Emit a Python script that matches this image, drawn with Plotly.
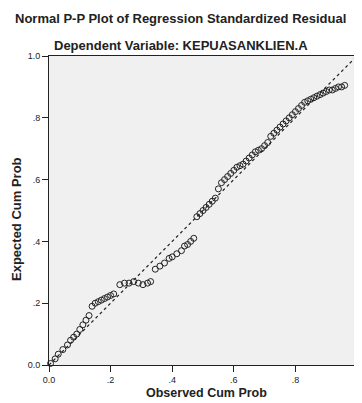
import plotly.graph_objects as go

observed = [0.005, 0.02, 0.03, 0.045, 0.06, 0.07, 0.08, 0.09, 0.10, 0.11, 0.12, 0.13,
            0.14, 0.15, 0.16, 0.17, 0.18, 0.19, 0.20, 0.21,
            0.23, 0.245, 0.26, 0.275, 0.29, 0.305, 0.32, 0.33,
            0.345, 0.36, 0.375, 0.39, 0.40, 0.415, 0.43,
            0.44, 0.45, 0.46, 0.47,
            0.48, 0.49, 0.50, 0.51, 0.52, 0.53, 0.54,
            0.55, 0.56, 0.57, 0.58, 0.59, 0.60, 0.61, 0.62, 0.63, 0.64,
            0.65, 0.66, 0.67, 0.68, 0.69, 0.70, 0.71,
            0.72, 0.73, 0.74, 0.75, 0.76, 0.77, 0.78, 0.79, 0.80, 0.81, 0.82,
            0.83, 0.84, 0.85, 0.86, 0.87, 0.88, 0.89, 0.90, 0.91, 0.92, 0.93, 0.94, 0.95, 0.96]
expected = [0.005, 0.02, 0.035, 0.05, 0.065, 0.08, 0.09, 0.10, 0.115, 0.13, 0.145, 0.16,
            0.19, 0.20, 0.205, 0.21, 0.215, 0.22, 0.225, 0.23,
            0.26, 0.265, 0.265, 0.27, 0.265, 0.26, 0.265, 0.27,
            0.31, 0.32, 0.33, 0.345, 0.35, 0.36, 0.37,
            0.385, 0.39, 0.40, 0.41,
            0.48, 0.49, 0.50, 0.51, 0.52, 0.53, 0.54,
            0.57, 0.59, 0.60, 0.61, 0.62, 0.63, 0.64, 0.645, 0.65, 0.66,
            0.67, 0.68, 0.69, 0.695, 0.70, 0.71, 0.72,
            0.74, 0.75, 0.76, 0.77, 0.78, 0.79, 0.80, 0.81, 0.82, 0.83, 0.84,
            0.85, 0.855, 0.86, 0.865, 0.87, 0.875, 0.88, 0.885, 0.89, 0.89, 0.895, 0.90, 0.90, 0.905]

ref_line = [0, 1]
tick_vals = [0, 0.2, 0.4, 0.6, 0.8, 1.0]
tick_text = ["0.0", ".2", ".4", ".6", ".8", "1.0"]

# figure sits at an 8px page offset; size it to fill the window exactly
W, H = 354, 395
L, R, T, B = 41, 5, 48, 38
PW, PH = W - L - R, H - T - B

fig = go.Figure()
fig.add_trace(go.Scatter(x=ref_line, y=ref_line, mode="lines",
                         line=dict(color="#222", width=1.2, dash="dot"),
                         hoverinfo="skip", showlegend=False))
fig.add_trace(go.Scatter(x=observed, y=expected, mode="markers",
                         marker=dict(symbol="circle-open", size=6, color="#222",
                                     line=dict(width=1)),
                         cliponaxis=False, showlegend=False))

font = "Liberation Sans, Arial, sans-serif"
cx = (172.5 - L) / PW
fig.update_layout(
    width=W, height=H,
    margin=dict(l=L, r=R, t=T, b=B),
    paper_bgcolor="white", plot_bgcolor="#f0f0f0",
    font=dict(family=font, color="#222"),
    annotations=[
        dict(text="<b>Normal P-P Plot of Regression Standardized Residual</b>",
             x=cx, xref="paper", y=1 + (T - 11) / PH, yref="paper",
             xanchor="center", yanchor="middle", showarrow=False,
             font=dict(size=13)),
        dict(text="<b>Dependent Variable: KEPUASANKLIEN.A</b>",
             x=cx, xref="paper", y=1 + (T - 37) / PH, yref="paper",
             xanchor="center", yanchor="middle", showarrow=False,
             font=dict(size=13)),
        dict(text="<b>Observed Cum Prob</b>",
             x=(198 - L) / PW, xref="paper", y=-(385 - (T + PH)) / PH, yref="paper",
             xanchor="center", yanchor="middle", showarrow=False,
             font=dict(size=12.5)),
        dict(text="<b>Expected Cum Prob</b>", textangle=-90,
             x=(8 - L) / PW, xref="paper", y=(T + PH - 211) / PH, yref="paper",
             xanchor="center", yanchor="middle", showarrow=False,
             font=dict(size=13)),
    ],
)

fig.update_xaxes(range=[0, 1], tickvals=tick_vals, ticktext=tick_text,
                 ticks="outside", ticklen=6, tickcolor="#222",
                 showline=True, linecolor="#222", linewidth=1, mirror=True,
                 showgrid=False, zeroline=False, tickfont=dict(size=9))
fig.update_yaxes(range=[0, 1], tickvals=tick_vals, ticktext=tick_text,
                 ticks="outside", ticklen=6, tickcolor="#222",
                 showline=True, linecolor="#222", linewidth=1, mirror=True,
                 showgrid=False, zeroline=False, tickfont=dict(size=9))

fig.write_html("out.html")
